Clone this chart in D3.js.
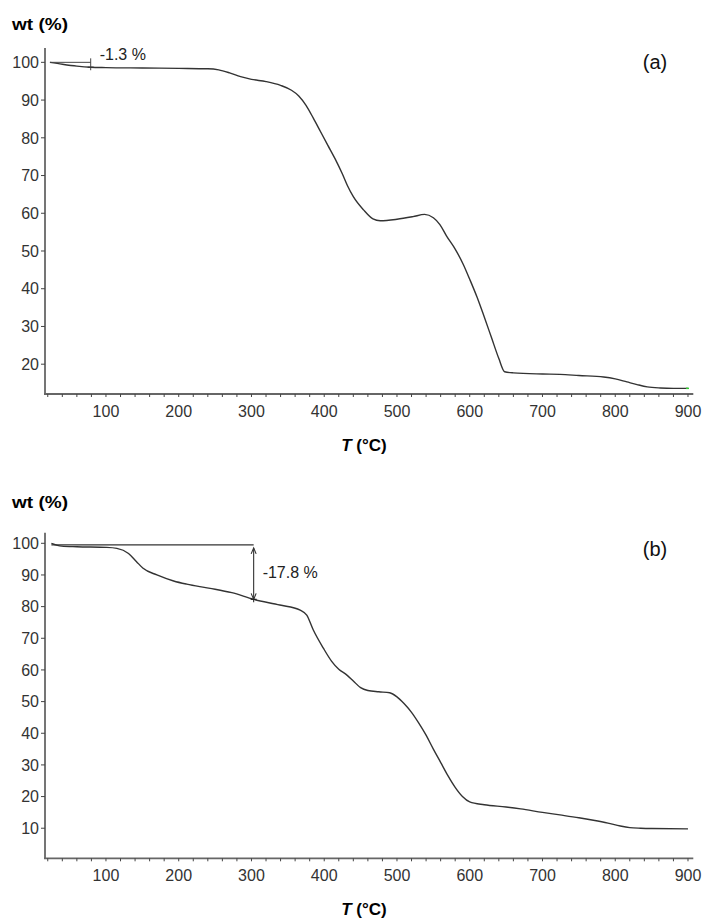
<!DOCTYPE html>
<html>
<head>
<meta charset="utf-8">
<script src="https://cdn.jsdelivr.net/npm/d3@7"></script>
<style>
  body { margin: 0; background: #fff; }
  text { font-family: "Liberation Sans", Arial, sans-serif; }
</style>
</head>
<body>
<div id="viz"></div>
<script>
// TGA curves, two panels (a) and (b)

// x axis, shared by both panels
const xTicksMajor = [100, 200, 300, 400, 500, 600, 700, 800, 900];
const xTicksMinor = d3.range(20, 901, 20);

// panel (a)
const tempA = [23, 40, 60, 79, 100, 150, 200, 240, 255, 270, 285, 300, 320, 340, 355, 365, 375, 385, 395, 405, 415, 425, 432, 440, 454, 467, 477, 500, 522, 538, 550, 559, 568, 580, 591, 600, 610, 620, 630, 640, 648, 660, 700, 724, 750, 784, 800, 816, 830, 844, 862, 880, 900];
const wtA = [100, 99.5, 99.0, 98.7, 98.6, 98.5, 98.4, 98.3, 98.0, 97.2, 96.2, 95.5, 94.9, 93.9, 92.6, 91.1, 88.6, 85.2, 81.6, 78.0, 74.4, 70.4, 67.3, 64.4, 60.9, 58.5, 58.0, 58.4, 59.1, 59.7, 58.8, 57.0, 54.0, 50.5, 46.5, 42.5, 37.8, 32.5, 27.0, 21.5, 18.0, 17.7, 17.4, 17.3, 17.0, 16.6, 16.1, 15.3, 14.6, 14.0, 13.7, 13.6, 13.6];
const yTicksA = [20, 30, 40, 50, 60, 70, 80, 90, 100];

// panel (b)
const tempB = [25, 39, 60, 101, 115, 131, 142, 151, 170, 193, 211, 229, 250, 273, 303, 339, 367, 376, 385, 399, 410, 420, 430, 440, 450, 460, 475, 490, 500, 510, 520, 530, 540, 550, 560, 570, 580, 590, 600, 620, 650, 670, 700, 724, 750, 770, 790, 807, 820, 835, 850, 900];
const wtB = [100, 99.1, 98.9, 98.7, 98.4, 96.8, 94.2, 92.1, 90.0, 88.1, 87.1, 86.3, 85.5, 84.4, 82.3, 80.5, 78.9, 77.3, 72.6, 66.8, 62.8, 60.2, 58.6, 56.5, 54.4, 53.5, 53.1, 52.8, 51.5, 49.3, 46.6, 43.2, 39.4, 35.0, 30.8, 26.6, 22.9, 20.0, 18.3, 17.4, 16.7, 16.1, 15.0, 14.2, 13.3, 12.5, 11.6, 10.7, 10.2, 10.0, 9.9, 9.8];
const yTicksB = [10, 20, 30, 40, 50, 60, 70, 80, 90, 100];

// annotations
const annA = { tStart: 23, tMark: 79, wtTop: 100, wtCurve: 98.7, label: "-1.3 %" };
const annB = { tStart: 25, tMark: 303, wtTop: 99.5, wtCurve: 82.3, label: "-17.8 %" };

const W = 705, H = 922;
const svg = d3.select("#viz").append("svg")
    .attr("width", W)
    .attr("height", H)
    .style("display", "block")
    .style("background-color", "#fff");

const x = d3.scaleLinear().domain([16.2, 907.3]).range([45, 693.3]);

const axisColor = "#666";
const lineColor = "#333";

function drawPanel(cfg) {
    const g = svg.append("g");
    const y = d3.scaleLinear().domain(cfg.yDomain).range(cfg.yRange);
    const y0 = cfg.yRange[0];

    // axes lines
    g.append("line")
        .attr("x1", x.range()[0]).attr("x2", x.range()[0])
        .attr("y1", cfg.yRange[1]).attr("y2", y0)
        .attr("stroke", axisColor).attr("stroke-width", 1.8);
    g.append("line")
        .attr("x1", x.range()[0] - 1).attr("x2", x.range()[1])
        .attr("y1", y0).attr("y2", y0)
        .attr("stroke", axisColor).attr("stroke-width", 1.8);

    // x ticks
    g.selectAll("line.xminor")
        .data(xTicksMinor)
        .join("line")
        .attr("class", "xminor")
        .attr("x1", d => x(d)).attr("x2", d => x(d))
        .attr("y1", y0).attr("y2", y0 + 3)
        .attr("stroke", "#444").attr("stroke-width", 1);
    g.selectAll("text.xlab")
        .data(xTicksMajor)
        .join("text")
        .attr("class", "xlab")
        .attr("x", d => x(d))
        .attr("y", y0 + 22.5)
        .attr("text-anchor", "middle")
        .attr("font-size", "16px")
        .attr("fill", "#333")
        .text(d => d);

    // y ticks
    g.selectAll("line.ytick")
        .data(cfg.yTicks)
        .join("line")
        .attr("class", "ytick")
        .attr("x1", x.range()[0] - 4).attr("x2", x.range()[0])
        .attr("y1", d => y(d)).attr("y2", d => y(d))
        .attr("stroke", "#444").attr("stroke-width", 1);
    g.selectAll("text.ylab")
        .data(cfg.yTicks)
        .join("text")
        .attr("class", "ylab")
        .attr("x", 39)
        .attr("y", d => y(d))
        .attr("dy", "0.36em")
        .attr("text-anchor", "end")
        .attr("font-size", "16px")
        .attr("fill", "#333")
        .text(d => d);

    // axis titles
    g.append("text")
        .attr("x", 12)
        .attr("y", cfg.wtY)
        .attr("font-size", "17px")
        .attr("font-weight", "bold")
        .attr("textLength", 56)
        .attr("lengthAdjust", "spacingAndGlyphs")
        .text("wt (%)");
    const tl = g.append("text")
        .attr("x", 364)
        .attr("y", y0 + 57)
        .attr("text-anchor", "middle")
        .attr("font-size", "17px")
        .attr("font-weight", "bold");
    tl.append("tspan").attr("font-style", "italic").text("T");
    tl.append("tspan").text(" (°C)");

    // panel letter
    g.append("text")
        .attr("x", 655)
        .attr("y", cfg.letterY)
        .attr("text-anchor", "middle")
        .attr("font-size", "20px")
        .attr("fill", "#111")
        .text(cfg.letter);

    // curve
    const line = d3.line()
        .x((d, i) => x(cfg.temp[i]))
        .y(d => y(d))
        .curve(d3.curveMonotoneX);
    g.append("path")
        .datum(cfg.wt)
        .attr("d", line)
        .attr("fill", "none")
        .attr("stroke", lineColor)
        .attr("stroke-width", 1.4);

    return { g, y };
}

// ---- panel (a)
const pa = drawPanel({
    yDomain: [12.1, 103.8], yRange: [394, 48],
    yTicks: yTicksA, temp: tempA, wt: wtA,
    wtY: 30, letter: "(a)", letterY: 69
});

// tiny green end mark, as in the original
pa.g.append("line")
    .attr("x1", x(tempA[tempA.length - 1]) - 2).attr("x2", x(tempA[tempA.length - 1]) + 1)
    .attr("y1", pa.y(wtA[wtA.length - 1])).attr("y2", pa.y(wtA[wtA.length - 1]))
    .attr("stroke", "#3c3").attr("stroke-width", 1.5);

// -1.3 % annotation
pa.g.append("line")
    .attr("x1", x(annA.tStart)).attr("x2", x(annA.tMark))
    .attr("y1", pa.y(annA.wtTop)).attr("y2", pa.y(annA.wtTop))
    .attr("stroke", "#444").attr("stroke-width", 1);
pa.g.append("line")
    .attr("x1", x(annA.tMark)).attr("x2", x(annA.tMark))
    .attr("y1", pa.y(annA.wtTop) - 4).attr("y2", pa.y(annA.wtCurve) + 3)
    .attr("stroke", "#444").attr("stroke-width", 1);
pa.g.append("line")
    .attr("x1", x(annA.tMark) - 3).attr("x2", x(annA.tMark) + 3)
    .attr("y1", pa.y(annA.wtCurve)).attr("y2", pa.y(annA.wtCurve))
    .attr("stroke", "#333").attr("stroke-width", 1.2);
pa.g.append("text")
    .attr("x", x(annA.tMark) + 9)
    .attr("y", pa.y(annA.wtTop) - 2)
    .attr("font-size", "16px")
    .attr("fill", "#222")
    .text(annA.label);

// ---- panel (b)
const pb = drawPanel({
    yDomain: [0.5, 103.35], yRange: [858.3, 532.7],
    yTicks: yTicksB, temp: tempB, wt: wtB,
    wtY: 508, letter: "(b)", letterY: 556
});

// -17.8 % annotation
const bx = x(annB.tMark), bTop = pb.y(annB.wtTop), bBot = pb.y(annB.wtCurve);
pb.g.append("line")
    .attr("x1", x(annB.tStart)).attr("x2", bx)
    .attr("y1", bTop).attr("y2", bTop)
    .attr("stroke", "#333").attr("stroke-width", 1.2);
pb.g.append("line")
    .attr("x1", bx).attr("x2", bx)
    .attr("y1", bTop + 3).attr("y2", bBot + 3)
    .attr("stroke", "#333").attr("stroke-width", 1.1);
pb.g.append("path")
    .attr("d", `M${bx - 2.5},${bTop + 9} L${bx},${bTop + 3} L${bx + 2.5},${bTop + 9}`)
    .attr("fill", "none").attr("stroke", "#333").attr("stroke-width", 1.1);
pb.g.append("path")
    .attr("d", `M${bx - 2.5},${bBot - 6} L${bx},${bBot} L${bx + 2.5},${bBot - 6}`)
    .attr("fill", "none").attr("stroke", "#333").attr("stroke-width", 1.1);
pb.g.append("line")
    .attr("x1", bx - 3).attr("x2", bx + 3)
    .attr("y1", bBot).attr("y2", bBot)
    .attr("stroke", "#222").attr("stroke-width", 1.2);
pb.g.append("text")
    .attr("x", bx + 9)
    .attr("y", (bTop + bBot) / 2)
    .attr("dy", "0.36em")
    .attr("font-size", "16px")
    .attr("fill", "#222")
    .text(annB.label);
</script>
</body>
</html>
